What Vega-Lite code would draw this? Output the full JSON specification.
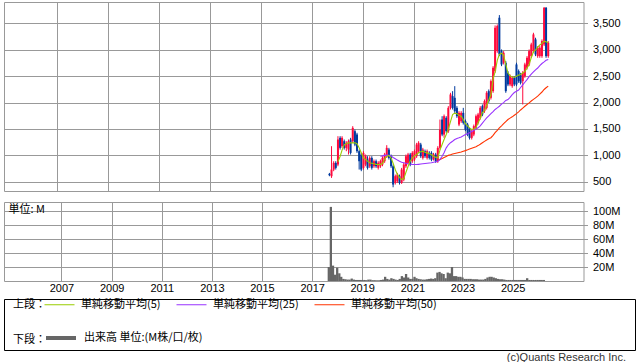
{
  "$schema": "https://vega.github.io/schema/vega-lite/v6.json",
  "padding": {"left": 3, "top": 1, "right": 0, "bottom": 0},
  "background": "white",
  "datasets": {
    "px": [
      {"date":"2017-09-01","open":649,"high":668,"low":605,"close":624,"volume":20,"ma5":null,"ma25":null,"ma50":null},
      {"date":"2017-10-01","open":605,"high":1174,"low":573,"close":731,"volume":106,"ma5":null,"ma25":null,"ma50":null},
      {"date":"2017-11-01","open":731,"high":889,"low":700,"close":858,"volume":22,"ma5":null,"ma25":null,"ma50":null},
      {"date":"2017-12-01","open":858,"high":889,"low":731,"close":763,"volume":9,"ma5":null,"ma25":null,"ma50":null},
      {"date":"2018-01-01","open":826,"high":1363,"low":794,"close":1300,"volume":19,"ma5":880,"ma25":null,"ma50":null},
      {"date":"2018-02-01","open":1332,"high":1363,"low":1110,"close":1142,"volume":11,"ma5":980,"ma25":null,"ma50":null},
      {"date":"2018-03-01","open":1174,"high":1363,"low":1142,"close":1332,"volume":6,"ma5":1100,"ma25":null,"ma50":null},
      {"date":"2018-04-01","open":1268,"high":1300,"low":1110,"close":1142,"volume":3,"ma5":1200,"ma25":null,"ma50":null},
      {"date":"2018-05-01","open":1142,"high":1268,"low":1079,"close":1237,"volume":2.5,"ma5":1220,"ma25":null,"ma50":null},
      {"date":"2018-06-01","open":1110,"high":1300,"low":1016,"close":1268,"volume":2,"ma5":1237,"ma25":null,"ma50":null},
      {"date":"2018-07-01","open":1300,"high":1332,"low":1016,"close":1047,"volume":2,"ma5":1237,"ma25":null,"ma50":null},
      {"date":"2018-08-01","open":1268,"high":1553,"low":1237,"close":1521,"volume":3.5,"ma5":1237,"ma25":null,"ma50":null},
      {"date":"2018-09-01","open":1458,"high":1490,"low":1174,"close":1205,"volume":2,"ma5":1237,"ma25":null,"ma50":null},
      {"date":"2018-10-01","open":1395,"high":1427,"low":1047,"close":1079,"volume":1.5,"ma5":1220,"ma25":null,"ma50":null},
      {"date":"2018-11-01","open":1079,"high":1110,"low":731,"close":889,"volume":1.5,"ma5":1142,"ma25":null,"ma50":null},
      {"date":"2018-12-01","open":1016,"high":1047,"low":700,"close":731,"volume":1.5,"ma5":1050,"ma25":null,"ma50":null},
      {"date":"2019-01-01","open":763,"high":1079,"low":731,"close":1047,"volume":1.5,"ma5":952,"ma25":null,"ma50":null},
      {"date":"2019-02-01","open":826,"high":1016,"low":794,"close":984,"volume":1.5,"ma5":920,"ma25":null,"ma50":null},
      {"date":"2019-03-01","open":921,"high":984,"low":731,"close":763,"volume":1.2,"ma5":890,"ma25":null,"ma50":null},
      {"date":"2019-04-01","open":794,"high":984,"low":763,"close":952,"volume":2,"ma5":858,"ma25":null,"ma50":null},
      {"date":"2019-05-01","open":952,"high":984,"low":731,"close":763,"volume":2,"ma5":850,"ma25":null,"ma50":null},
      {"date":"2019-06-01","open":794,"high":921,"low":763,"close":889,"volume":1.2,"ma5":840,"ma25":null,"ma50":null},
      {"date":"2019-07-01","open":889,"high":921,"low":763,"close":794,"volume":1.2,"ma5":830,"ma25":null,"ma50":null},
      {"date":"2019-08-01","open":763,"high":889,"low":731,"close":858,"volume":1,"ma5":826,"ma25":null,"ma50":null},
      {"date":"2019-09-01","open":794,"high":921,"low":763,"close":889,"volume":1,"ma5":830,"ma25":984,"ma50":null},
      {"date":"2019-10-01","open":826,"high":984,"low":794,"close":952,"volume":1.5,"ma5":845,"ma25":990,"ma50":null},
      {"date":"2019-11-01","open":889,"high":1047,"low":858,"close":1016,"volume":2,"ma5":930,"ma25":1000,"ma50":null},
      {"date":"2019-12-01","open":984,"high":1193,"low":952,"close":1142,"volume":6,"ma5":980,"ma25":1005,"ma50":null},
      {"date":"2020-01-01","open":1110,"high":1142,"low":921,"close":952,"volume":3,"ma5":1000,"ma25":1000,"ma50":null},
      {"date":"2020-02-01","open":984,"high":1016,"low":763,"close":794,"volume":2,"ma5":950,"ma25":990,"ma50":null},
      {"date":"2020-03-01","open":794,"high":826,"low":396,"close":447,"volume":4,"ma5":850,"ma25":960,"ma50":null},
      {"date":"2020-04-01","open":478,"high":636,"low":447,"close":605,"volume":3,"ma5":730,"ma25":935,"ma50":null},
      {"date":"2020-05-01","open":510,"high":668,"low":478,"close":636,"volume":2,"ma5":640,"ma25":910,"ma50":null},
      {"date":"2020-06-01","open":605,"high":636,"low":447,"close":478,"volume":1.5,"ma5":580,"ma25":890,"ma50":null},
      {"date":"2020-07-01","open":478,"high":763,"low":459,"close":731,"volume":3,"ma5":540,"ma25":870,"ma50":null},
      {"date":"2020-08-01","open":542,"high":858,"low":510,"close":826,"volume":7,"ma5":560,"ma25":860,"ma50":null},
      {"date":"2020-09-01","open":794,"high":1016,"low":763,"close":984,"volume":5,"ma5":680,"ma25":850,"ma50":null},
      {"date":"2020-10-01","open":858,"high":1047,"low":826,"close":1016,"volume":10,"ma5":790,"ma25":842,"ma50":null},
      {"date":"2020-11-01","open":1016,"high":1047,"low":794,"close":826,"volume":5,"ma5":889,"ma25":835,"ma50":null},
      {"date":"2020-12-01","open":889,"high":1079,"low":858,"close":1047,"volume":3,"ma5":950,"ma25":830,"ma50":null},
      {"date":"2021-01-01","open":921,"high":1110,"low":889,"close":1079,"volume":3,"ma5":990,"ma25":826,"ma50":null},
      {"date":"2021-02-01","open":984,"high":1237,"low":952,"close":1205,"volume":6,"ma5":1016,"ma25":826,"ma50":null},
      {"date":"2021-03-01","open":1079,"high":1268,"low":1047,"close":1237,"volume":4,"ma5":1050,"ma25":830,"ma50":null},
      {"date":"2021-04-01","open":1205,"high":1237,"low":952,"close":984,"volume":3,"ma5":1070,"ma25":835,"ma50":null},
      {"date":"2021-05-01","open":952,"high":1142,"low":921,"close":1110,"volume":2.5,"ma5":1079,"ma25":840,"ma50":null},
      {"date":"2021-06-01","open":1079,"high":1110,"low":952,"close":984,"volume":2,"ma5":1060,"ma25":845,"ma50":null},
      {"date":"2021-07-01","open":952,"high":1110,"low":921,"close":1079,"volume":2,"ma5":1047,"ma25":850,"ma50":null},
      {"date":"2021-08-01","open":1047,"high":1079,"low":921,"close":952,"volume":2.5,"ma5":1030,"ma25":855,"ma50":null},
      {"date":"2021-09-01","open":1047,"high":1079,"low":889,"close":921,"volume":3,"ma5":1010,"ma25":860,"ma50":null},
      {"date":"2021-10-01","open":921,"high":1047,"low":902,"close":1016,"volume":3.5,"ma5":984,"ma25":870,"ma50":null},
      {"date":"2021-11-01","open":1016,"high":1047,"low":858,"close":889,"volume":3,"ma5":965,"ma25":880,"ma50":null},
      {"date":"2021-12-01","open":889,"high":1174,"low":858,"close":1142,"volume":4,"ma5":952,"ma25":890,"ma50":902},
      {"date":"2022-01-01","open":1142,"high":1679,"low":1110,"close":1490,"volume":12,"ma5":1100,"ma25":920,"ma50":920},
      {"date":"2022-02-01","open":1679,"high":1742,"low":1363,"close":1395,"volume":13,"ma5":1205,"ma25":984,"ma50":940},
      {"date":"2022-03-01","open":1395,"high":1774,"low":1332,"close":1742,"volume":11,"ma5":1300,"ma25":1050,"ma50":960},
      {"date":"2022-04-01","open":1711,"high":1742,"low":1427,"close":1458,"volume":10,"ma5":1395,"ma25":1142,"ma50":980},
      {"date":"2022-05-01","open":1458,"high":1932,"low":1427,"close":1900,"volume":4,"ma5":1500,"ma25":1200,"ma50":1000},
      {"date":"2022-06-01","open":1900,"high":2185,"low":1869,"close":2153,"volume":12,"ma5":1640,"ma25":1240,"ma50":1012},
      {"date":"2022-07-01","open":2122,"high":2216,"low":1869,"close":1900,"volume":11,"ma5":1774,"ma25":1268,"ma50":1025},
      {"date":"2022-08-01","open":2090,"high":2311,"low":1805,"close":1837,"volume":20,"ma5":1800,"ma25":1300,"ma50":1035},
      {"date":"2022-09-01","open":1900,"high":1932,"low":1711,"close":1742,"volume":7,"ma5":1790,"ma25":1320,"ma50":1045},
      {"date":"2022-10-01","open":1584,"high":1837,"low":1553,"close":1805,"volume":7,"ma5":1760,"ma25":1332,"ma50":1055},
      {"date":"2022-11-01","open":1647,"high":1837,"low":1616,"close":1805,"volume":6,"ma5":1742,"ma25":1350,"ma50":1065},
      {"date":"2022-12-01","open":1805,"high":1900,"low":1584,"close":1616,"volume":6,"ma5":1680,"ma25":1370,"ma50":1078},
      {"date":"2023-01-01","open":1647,"high":1679,"low":1458,"close":1490,"volume":5,"ma5":1600,"ma25":1395,"ma50":1090},
      {"date":"2023-02-01","open":1584,"high":1616,"low":1363,"close":1395,"volume":3,"ma5":1560,"ma25":1410,"ma50":1105},
      {"date":"2023-03-01","open":1490,"high":1521,"low":1300,"close":1332,"volume":3,"ma5":1520,"ma25":1427,"ma50":1120},
      {"date":"2023-04-01","open":1332,"high":1490,"low":1300,"close":1458,"volume":3,"ma5":1490,"ma25":1450,"ma50":1135},
      {"date":"2023-05-01","open":1395,"high":1584,"low":1363,"close":1553,"volume":3,"ma5":1500,"ma25":1470,"ma50":1150},
      {"date":"2023-06-01","open":1521,"high":1774,"low":1490,"close":1742,"volume":2.5,"ma5":1521,"ma25":1500,"ma50":1165},
      {"date":"2023-07-01","open":1616,"high":1805,"low":1584,"close":1774,"volume":2.5,"ma5":1620,"ma25":1521,"ma50":1185},
      {"date":"2023-08-01","open":1711,"high":1932,"low":1679,"close":1900,"volume":2.5,"ma5":1700,"ma25":1560,"ma50":1210},
      {"date":"2023-09-01","open":1932,"high":1964,"low":1742,"close":1774,"volume":2,"ma5":1810,"ma25":1610,"ma50":1240},
      {"date":"2023-10-01","open":1837,"high":2058,"low":1805,"close":2027,"volume":2,"ma5":1850,"ma25":1660,"ma50":1265},
      {"date":"2023-11-01","open":1900,"high":2216,"low":1869,"close":2185,"volume":2,"ma5":1950,"ma25":1711,"ma50":1290},
      {"date":"2023-12-01","open":2216,"high":2248,"low":1995,"close":2027,"volume":3,"ma5":2050,"ma25":1750,"ma50":1315},
      {"date":"2024-01-01","open":2090,"high":2438,"low":2058,"close":2406,"volume":5,"ma5":2153,"ma25":1790,"ma50":1335},
      {"date":"2024-02-01","open":2216,"high":2690,"low":2185,"close":2659,"volume":6,"ma5":2450,"ma25":1830,"ma50":1380},
      {"date":"2024-03-01","open":2596,"high":3461,"low":2564,"close":3417,"volume":6,"ma5":2580,"ma25":1870,"ma50":1430},
      {"date":"2024-04-01","open":2975,"high":3480,"low":2943,"close":3449,"volume":5,"ma5":2800,"ma25":1900,"ma50":1475},
      {"date":"2024-05-01","open":3607,"high":3657,"low":2880,"close":2912,"volume":4,"ma5":2912,"ma25":1930,"ma50":1521},
      {"date":"2024-06-01","open":2975,"high":3006,"low":2690,"close":2722,"volume":3,"ma5":2935,"ma25":1970,"ma50":1560},
      {"date":"2024-07-01","open":2754,"high":2975,"low":2722,"close":2943,"volume":2.5,"ma5":2900,"ma25":2000,"ma50":1600},
      {"date":"2024-08-01","open":2754,"high":2785,"low":2185,"close":2216,"volume":2.5,"ma5":2722,"ma25":2040,"ma50":1640},
      {"date":"2024-09-01","open":2564,"high":2596,"low":2311,"close":2343,"volume":2,"ma5":2560,"ma25":2058,"ma50":1679},
      {"date":"2024-10-01","open":2343,"high":2532,"low":2311,"close":2501,"volume":1.5,"ma5":2510,"ma25":2100,"ma50":1705},
      {"date":"2024-11-01","open":2311,"high":2501,"low":2280,"close":2469,"volume":1.5,"ma5":2480,"ma25":2150,"ma50":1730},
      {"date":"2024-12-01","open":2469,"high":2501,"low":2311,"close":2343,"volume":1.5,"ma5":2480,"ma25":2190,"ma50":1760},
      {"date":"2025-01-01","open":2722,"high":2754,"low":2311,"close":2343,"volume":1.5,"ma5":2500,"ma25":2216,"ma50":1790},
      {"date":"2025-02-01","open":2596,"high":2627,"low":2374,"close":2406,"volume":1.5,"ma5":2520,"ma25":2236,"ma50":1825},
      {"date":"2025-03-01","open":2532,"high":2564,"low":2343,"close":2374,"volume":1.5,"ma5":2532,"ma25":2285,"ma50":1860},
      {"date":"2025-04-01","open":2406,"high":2596,"low":1964,"close":2564,"volume":1.5,"ma5":2560,"ma25":2335,"ma50":1895},
      {"date":"2025-05-01","open":2501,"high":2754,"low":2469,"close":2722,"volume":1.5,"ma5":2590,"ma25":2385,"ma50":1930},
      {"date":"2025-06-01","open":2659,"high":2880,"low":2627,"close":2848,"volume":1.5,"ma5":2650,"ma25":2435,"ma50":1964},
      {"date":"2025-07-01","open":2722,"high":3006,"low":2690,"close":2975,"volume":1.5,"ma5":2720,"ma25":2490,"ma50":1995},
      {"date":"2025-08-01","open":2880,"high":3133,"low":2848,"close":3101,"volume":4,"ma5":2850,"ma25":2540,"ma50":2030},
      {"date":"2025-09-01","open":2975,"high":3322,"low":2943,"close":3291,"volume":1.5,"ma5":2960,"ma25":2580,"ma50":2060},
      {"date":"2025-10-01","open":3196,"high":3228,"low":2880,"close":2912,"volume":1.5,"ma5":3000,"ma25":2620,"ma50":2090},
      {"date":"2025-11-01","open":2880,"high":3070,"low":2848,"close":3038,"volume":1.5,"ma5":3050,"ma25":2655,"ma50":2122},
      {"date":"2025-12-01","open":2880,"high":3070,"low":2848,"close":3038,"volume":1.5,"ma5":3090,"ma25":2700,"ma50":2160},
      {"date":"2026-01-01","open":2880,"high":3196,"low":2848,"close":3164,"volume":1.5,"ma5":3120,"ma25":2740,"ma50":2200},
      {"date":"2026-02-01","open":3101,"high":3809,"low":3070,"close":3796,"volume":1.5,"ma5":3164,"ma25":2770,"ma50":2248},
      {"date":"2026-03-01","open":3796,"high":3809,"low":2848,"close":2880,"volume":1.5,"ma5":3150,"ma25":2800,"ma50":2280},
      {"date":"2026-04-01","open":2880,"high":3164,"low":2848,"close":3133,"volume":1.5,"ma5":3133,"ma25":2817,"ma50":2311}
    ]
  },
  "spacing": 4,
  "vconcat": [
    {
      "spacing": 9,
      "vconcat": [
        {
          "width": 579.5,
          "height": 189,
          "data": {"name": "px"},
          "encoding": {
            "x": {"field": "date", "type": "temporal",
              "scale": {"domain": ["2004-11-27", "2027-08-19"], "nice": false},
              "axis": {"values": ["2007-01-01","2009-01-01","2011-01-01","2013-01-01","2015-01-01","2017-01-01","2019-01-01","2021-01-01","2023-01-01","2025-01-01"], "labels": false, "ticks": false, "domain": false, "title": null, "grid": true}}
          },
          "layer": [
            {
              "mark": {"type": "rule", "strokeWidth": 1},
              "encoding": {
                "y": {"field": "low", "type": "quantitative",
                  "scale": {"domain": [325, 3905], "nice": false, "zero": false},
                  "axis": {"orient": "right", "values": [500,1000,1500,2000,2500,3000,3500], "format": ",d", "labelOverlap": false, "tickCount": 7, "title": null, "domain": false, "tickSize": 4, "labelPadding": 5, "grid": true}},
                "y2": {"field": "high"},
                "color": {"condition": {"test": "datum.close >= datum.open", "value": "#ff0a3c"}, "value": "#003a9e"}
              }
            },
            {
              "mark": {"type": "rule", "strokeWidth": 2},
              "encoding": {
                "y": {"field": "open", "type": "quantitative",
                  "axis": {"orient": "right", "values": [500,1000,1500,2000,2500,3000,3500], "format": ",d", "labelOverlap": false, "tickCount": 7, "title": null, "domain": false, "tickSize": 4, "labelPadding": 5, "grid": true}},
                "y2": {"field": "close"},
                "color": {"condition": {"test": "datum.close >= datum.open", "value": "#ff0a3c"}, "value": "#003a9e"}
              }
            },
            {
              "mark": {"type": "line", "strokeWidth": 1.1},
              "encoding": {
                "y": {"field": "ma50", "type": "quantitative",
                  "axis": {"orient": "right", "values": [500,1000,1500,2000,2500,3000,3500], "format": ",d", "labelOverlap": false, "tickCount": 7, "title": null, "domain": false, "tickSize": 4, "labelPadding": 5, "grid": true}},
                "color": {"datum": "単純移動平均(50)", "type": "nominal",
                  "scale": {"domain": ["単純移動平均(5)", "単純移動平均(25)", "単純移動平均(50)"], "range": ["#99cc00", "#9933ff", "#ff3300"]},
                  "legend": {"title": "上段：", "orient": "none", "legendX": 9, "legendY": 287, "direction": "horizontal", "titleOrient": "left", "titleAngle": 0, "titleAlign": "left", "titleBaseline": "top", "titlePadding": -2, "titleFontWeight": "normal", "titleFontSize": 11, "titleFont": "Noto Sans CJK JP", "titleColor": "#000", "labelFont": "Noto Sans CJK JP", "labelFontSize": 11, "labelColor": "#000", "symbolType": "stroke", "symbolSize": 900, "symbolStrokeWidth": 1, "labelOffset": 6, "columnPadding": 13, "padding": 0}}
              }
            },
            {
              "mark": {"type": "line", "strokeWidth": 1.1},
              "encoding": {
                "y": {"field": "ma25", "type": "quantitative",
                  "axis": {"orient": "right", "values": [500,1000,1500,2000,2500,3000,3500], "format": ",d", "labelOverlap": false, "tickCount": 7, "title": null, "domain": false, "tickSize": 4, "labelPadding": 5, "grid": true}},
                "color": {"datum": "単純移動平均(25)", "type": "nominal"}
              }
            },
            {
              "mark": {"type": "line", "strokeWidth": 1.1},
              "encoding": {
                "y": {"field": "ma5", "type": "quantitative",
                  "axis": {"orient": "right", "values": [500,1000,1500,2000,2500,3000,3500], "format": ",d", "labelOverlap": false, "tickCount": 7, "title": null, "domain": false, "tickSize": 4, "labelPadding": 5, "grid": true}},
                "color": {"datum": "単純移動平均(5)", "type": "nominal"}
              }
            }
          ]
        },
        {
          "width": 579.5,
          "height": 79,
          "data": {"name": "px"},
          "mark": {"type": "bar", "width": 2.3, "fill": "#666666", "strokeWidth": 0},
          "encoding": {
            "x": {"field": "date", "type": "temporal",
              "scale": {"domain": ["2004-11-27", "2027-08-19"], "nice": false},
              "axis": {"values": ["2007-01-01","2009-01-01","2011-01-01","2013-01-01","2015-01-01","2017-01-01","2019-01-01","2021-01-01","2023-01-01","2025-01-01"], "format": "%Y", "labels": true, "ticks": false, "domain": false, "title": null, "grid": true, "labelPadding": 1}},
            "y": {"field": "volume", "type": "quantitative",
              "scale": {"domain": [0, 113], "nice": false},
              "axis": {"orient": "right", "values": [20,40,60,80,100], "labelExpr": "datum.value + 'M'", "labelOverlap": false, "domain": false, "tickSize": 4, "labelPadding": 5, "grid": true,
                "title": "単位: M", "titleAngle": 0, "titleX": -575.5, "titleY": 7, "titleAlign": "left", "titleBaseline": "middle", "titleFont": "Noto Sans CJK JP", "titleFontSize": 11, "titleFontWeight": "normal", "titleColor": "#000"}},
            "stroke": {"datum": "出来高 単位:(M株/口/枚)", "type": "nominal",
              "scale": {"range": ["#666666"]},
              "legend": {"title": "下段：", "orient": "none", "legendX": 9, "legendY": 319, "direction": "horizontal", "titleOrient": "left", "titleAngle": 0, "titleAlign": "left", "titleBaseline": "top", "titlePadding": -2, "titleFontWeight": "normal", "titleFontSize": 11, "titleFont": "Noto Sans CJK JP", "titleColor": "#000", "labelFont": "Noto Sans CJK JP", "labelFontSize": 11, "labelColor": "#000", "symbolType": "stroke", "symbolSize": 900, "symbolStrokeWidth": 4, "symbolStrokeColor": "#666666", "labelOffset": 6, "padding": 0}}
          }
        }
      ]
    },
    {
      "width": 631,
      "height": 51,
      "view": {"stroke": "#000000", "strokeWidth": 1},
      "title": {"text": "(c)Quants Research Inc.", "orient": "bottom", "anchor": "end", "fontSize": 11, "fontWeight": "normal", "font": "Liberation Sans", "color": "#333333", "offset": 2, "dx": -9},
      "data": {"values": [{}]},
      "mark": {"type": "text", "text": ""},
      "encoding": {}
    }
  ],
  "config": {
    "font": "Liberation Sans",
    "view": {"stroke": "#999999", "strokeWidth": 1},
    "axis": {"gridColor": "#999999", "gridOpacity": 1, "gridWidth": 1, "tickColor": "#999999", "labelFont": "Liberation Sans", "labelFontSize": 11, "labelColor": "#000000"},
    "axisY": {"labelOverlap": false}
  }
}
